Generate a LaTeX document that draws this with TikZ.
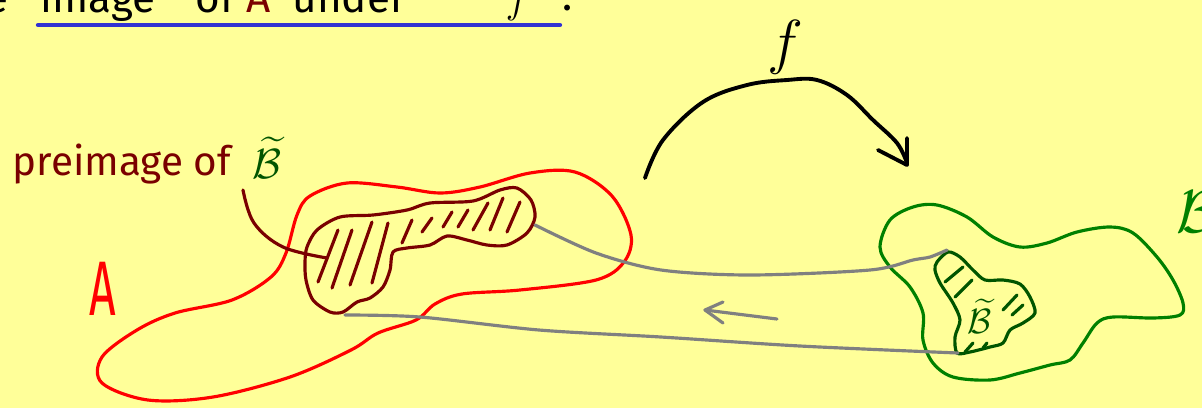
\documentclass[tikz,border=0pt]{standalone}
\usepackage{fontspec}
\setmainfont{Fira Sans}
\usepackage{amsmath}
\usepackage{graphicx}
\usetikzlibrary{arrows.meta}
\definecolor{mybg}{RGB}{255,255,153}
\definecolor{myred}{RGB}{255,0,0}
\definecolor{mymaroon}{RGB}{122,0,0}
\definecolor{mygreen}{RGB}{0,128,0}
\definecolor{mydkgreen}{RGB}{0,85,0}
\definecolor{mygrey}{RGB}{128,128,128}
\definecolor{myblue}{RGB}{50,50,210}
\tikzset{
  pen/.style={line width=0.9pt, line cap=round, line join=round},
  redline/.style={pen, draw=myred},
  maroonline/.style={pen, draw=mymaroon},
  greenline/.style={pen, draw=mygreen},
  dkgreenline/.style={pen, draw=mydkgreen},
  greyline/.style={pen, draw=mygrey},
  blackline/.style={line width=1.1pt, line cap=round, line join=round, draw=black},
  headtext/.style={font=\fontsize{12}{15}\selectfont, inner sep=0pt},
  labeltext/.style={font=\fontsize{11.5}{14}\selectfont, inner sep=0pt}
}

\begin{document}
\begin{tikzpicture}[x=0.01cm, y=-0.01cm]
  \useasboundingbox (0,0) rectangle (1202,408);
  \fill[mybg] (0,0) rectangle (1202,408);
  \clip (0,0) rectangle (1202,408);

  % Heading, cut off at the top
  \node[headtext, anchor=base east] (hde) at (9,12) {e};
  \node[headtext, anchor=base west] (himage) at (40,12) {image};
  \node[headtext, anchor=base west] (hof) at (195,12) {of};
  \node[headtext, anchor=base west, text=mymaroon] (hA) at (246,12) {A};
  \node[headtext, anchor=base west] (hunder) at (292,12) {under};
  \node[headtext, anchor=base west] (hf) at (505,12) {$f$};
  \node[headtext, anchor=base west] (hdot) at (562,10) {.};
  \draw[line width=1.2pt, draw=myblue, line cap=round] (38,25) -- (560,25);

  % Set A
  \draw[redline] plot[smooth cycle, tension=0.55] coordinates {
    (286,253) (297,215) (310,196) (347,183) (397,187) (440,193) (480,187)
    (530,173) (575,172) (612,196) (631,235) (624,262) (596,280) (520,290)
    (462,294) (435,304) (416,320) (378,333) (351,350) (290,377) (213,397)
    (148,400) (102,383) (102,357) (137,330) (175,313) (232,300) (271,277)};
  \node[text=myred, font=\fontsize{22}{24}\selectfont, inner sep=0pt] (lA) at (103,289) {\scalebox{0.6}[1]{A}};

  % Preimage of B tilde
  \draw[maroonline] plot[smooth cycle, tension=0.5] coordinates {
    (307,247) (317,230) (340,217) (373,215) (407,210) (430,203) (473,201)
    (500,190) (517,188) (531,200) (535,217) (527,233) (507,245) (487,245)
    (467,240) (447,236) (430,245) (407,248) (393,252) (390,270) (383,287)
    (370,298) (357,302) (343,312) (330,312) (313,300) (306,280) (305,262)};
  \foreach \xa/\ya/\xb/\yb in {318/282/338/230, 332/288/352/230, 350/285/372/222,
      372/283/388/223, 402/243/412/220, 422/232/432/218, 443/227/452/212,
      458/227/468/210, 473/230/488/203, 490/230/503/198, 507/232/520/202}
    \draw[maroonline] (\xa,\ya) -- (\xb,\yb);

  % Label of the preimage
  \node[labeltext, anchor=base west, text=mymaroon] (lpre) at (12,175) {preimage of};
  \node[font=\fontsize{13}{15}\selectfont, text=mydkgreen, inner sep=0pt] (lpreB) at (267,158) {$\widetilde{\mathcal{B}}$};
  \draw[maroonline] plot[smooth, tension=0.6] coordinates {(243,190) (254,223) (283,247) (327,258)};

  % Set B
  \draw[greenline] plot[smooth cycle, tension=0.55] coordinates {
    (880,247) (890,220) (913,207) (937,205) (967,217) (993,237) (1020,247)
    (1047,243) (1077,232) (1110,227) (1133,233) (1157,257) (1173,280)
    (1183,303) (1180,315) (1153,318) (1113,317) (1097,323) (1083,343)
    (1070,360) (1050,365) (1020,373) (990,380) (953,377) (933,363)
    (923,340) (923,313) (910,287) (890,267)};
  \node[font=\fontsize{18}{20}\selectfont, text=mygreen, inner sep=0pt, anchor=west] (lB) at (1176,212) {$\mathcal{B}$};

  % B tilde
  \draw[dkgreenline] plot[smooth cycle, tension=0.5] coordinates {
    (937,262) (948,252) (960,257) (973,270) (985,280) (1003,280) (1020,284)
    (1030,297) (1035,313) (1023,323) (1010,330) (1003,343) (990,347)
    (970,352) (957,353) (955,337) (960,320) (953,303) (940,283) (935,270)};
  \foreach \xa/\ya/\xb/\yb in {945/282/963/267, 955/297/972/280, 1003/310/1017/295,
      1012/315/1023/305, 965/352/973/343, 983/348/987/343}
    \draw[dkgreenline] (\xa,\ya) -- (\xb,\yb);
  \node[font=\fontsize{10}{12}\selectfont, text=mydkgreen, inner sep=0pt] (lBt) at (980,316) {$\widetilde{\mathcal{B}}$};

  % Traces between the two sets
  \draw[greyline] plot[smooth, tension=0.5] coordinates {
    (535,225) (596,253) (661,270) (750,275) (870,270) (913,260) (930,257) (947,250)};
  \draw[greyline] plot[smooth, tension=0.5] coordinates {
    (345,315) (420,317) (539,330) (661,337) (800,346) (958,353)};
  \draw[greyline] (777,319) -- (705,310);
  \draw[greyline] (723,302) -- (705,310) -- (723,323);

  % The map f
  \draw[blackline] plot[smooth, tension=0.6] coordinates {
    (645,178) (663,140) (703,102) (747,85) (787,80) (817,80) (847,95)
    (873,120) (897,143) (907,163)};
  \draw[blackline] (878,150) -- (907,165) -- (907,138);
  \node[font=\fontsize{17}{19}\selectfont, inner sep=0pt] (lf) at (785,47) {$f$};
\end{tikzpicture}
\end{document}
